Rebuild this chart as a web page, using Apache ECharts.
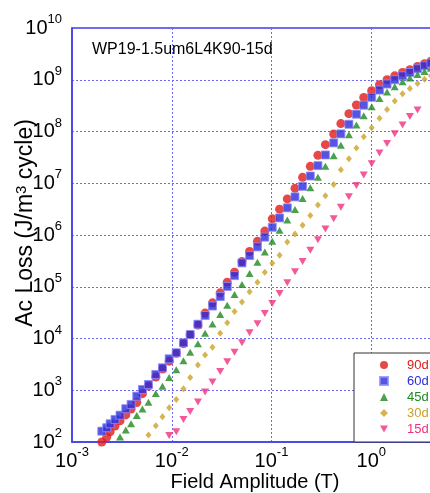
<!DOCTYPE html>
<html>
<head>
<meta charset="utf-8">
<script src="https://cdn.jsdelivr.net/npm/echarts@6/dist/echarts.min.js"></script>
<style>
  html, body { margin: 0; padding: 0; background: #fff; overflow: hidden; width: 430px; height: 493px; }
  /* the plot continues past the right edge of the window, so the canvas is wider than the page */
  #chart { width: 500px; height: 493px; }
</style>
</head>
<body>
<div id="chart"></div>
<script>
// Field amplitude (T) at which each loss was measured
const fieldAmplitude = [
  0.00199, 0.00223, 0.00241, 0.00270, 0.00303, 0.00346, 0.00391, 0.00446, 0.00508, 0.00584,
  0.00692, 0.00807, 0.00942, 0.0111, 0.0131, 0.0153, 0.0183, 0.0216, 0.0256, 0.0306,
  0.0360, 0.0426, 0.0506, 0.0603, 0.0723, 0.0857, 0.1018, 0.1205, 0.144, 0.172,
  0.205, 0.245, 0.292, 0.347, 0.420, 0.496, 0.597, 0.710, 0.841, 1.01,
  1.21, 1.44, 1.72, 2.06, 2.44, 2.91, 3.42, 3.97
];

// AC loss (J/m^3 cycle) per field angle; null where not measured
const loss90 = [
  100, 125, 157, 203, 258, 334, 432, 581, 859, 1200,
  1800, 2576, 3650, 5180, 7940, 11780, 18240, 31000, 48900, 76200,
  1.22e5, 1.906e5, 3.06e5, 4.79e5, 7.55e5, 1.19e6, 2.05e6, 3.16e6, 4.98e6, 7.98e6,
  1.30e7, 2.12e7, 3.46e7, 5.56e7, 8.95e7, 1.42e8, 2.21e8, 3.25e8, 4.55e8, 6.14e8,
  8.0e8, 1.0e9, 1.19e9, 1.38e9, 1.56e9, 1.81e9, 2.04e9, 2.28e9
];
const loss60 = [
  162, 189, 225, 273, 330, 440, 532, 769, 1035, 1294,
  2018, 2716, 4052, 5296, 8260, 11940, 18880, 27800, 42400, 64700,
  1.01e5, 1.64e5, 2.89e5, 4.0e5, 5.89e5, 9.1e5, 1.41e6, 2.14e6, 3.35e6, 5.45e6,
  8.72e6, 1.38e7, 2.19e7, 3.52e7, 6.02e7, 9.0e7, 1.38e8, 2.16e8, 3.22e8, 4.59e8,
  6.32e8, 8.26e8, 1.0e9, 1.19e9, 1.38e9, 1.63e9, 1.86e9, 2.09e9
];
const loss45 = [
  null, null, null, null, 125, 171, 225, 326, 432, 589,
  867, 1200, 1766, 2489, 3707, 5445, 7940, 12600, 19070, 29000,
  43900, 70700, 1.10e5, 1.80e5, 2.97e5, 4.68e5, 7.55e5, 1.23e6, 1.95e6, 3.12e6,
  5.09e6, 8.18e6, 1.31e7, 2.12e7, 3.41e7, 5.40e7, 8.61e7, 1.33e8, 2.02e8, 3.01e8,
  4.36e8, 5.79e8, 7.33e8, 9.15e8, 1.08e9, 1.27e9, 1.45e9, 1.67e9
];
const loss30 = [
  null, null, null, null, null, null, null, null, null, 136,
  205, 308, 459, 664, 1069, 1766, 3077, 4799, 6790, 12650,
  20090, 33200, 51000, 79800, 1.22e5, 1.906e5, 2.84e5, 4.04e5, 7.36e5, 1.05e6,
  1.54e6, 2.37e6, 3.81e6, 5.76e6, 9.5e6, 1.83e7, 2.99e7, 4.80e7, 7.94e7, 1.18e8,
  1.81e8, 2.67e8, 3.88e8, 5.37e8, 6.80e8, 8.48e8, 1.02e9, 1.19e9
];
const loss15 = [
  null, null, null, null, null, null, null, null, null, null,
  null, null, 134, 158, 273, 390, 594, 927, 1445, 2306,
  3548, 5445, 8260, 12880, 19230, 30400, 47400, 73900, 1.19e5, 1.94e5,
  3.06e5, 5.07e5, 8.08e5, 1.31e6, 2.05e6, 3.43e6, 5.51e6, 9.0e6, 1.45e7, 2.39e7,
  3.85e7, 5.89e7, 9.07e7, 1.33e8, 1.95e8, 2.60e8, null, null
];

const seriesNames = ['90d', '60d', '45d', '30d', '15d'];
const seriesColors = ['#e01a1a', '#2b2bd8', '#1e8a1e', '#c9a227', '#f0307e'];
const chartTitle = 'WP19-1.5um6L4K90-15d';

function pairs(values) {
  const out = [];
  values.forEach((v, i) => { if (v !== null) out.push([fieldAmplitude[i], v]); });
  return out;
}

function powerLabel(value) {
  const e = Math.round(Math.log10(value));
  return '{b|10}{e|' + e + '}';
}

const FONT = 'Liberation Sans, Arial, sans-serif';
const tickRich = {
  b: { fontSize: 20, color: '#000', fontFamily: FONT, padding: [5, 0, 5, 0] },
  e: { fontSize: 13, color: '#000', fontFamily: FONT, verticalAlign: 'top' }
};

const axisBlue = '#4040e8';
const gridLine = { show: true, lineStyle: { color: '#6f66f2', type: [2, 2], width: 1 } };

const chart = echarts.init(document.getElementById('chart'), null, { renderer: 'canvas' });

chart.setOption({
  backgroundColor: '#fff',
  animation: false,
  title: {
    text: chartTitle,
    left: 92, top: 42, padding: 0,
    textStyle: { fontSize: 16, fontWeight: 'normal', color: '#000', fontFamily: FONT }
  },
  grid: {
    left: 72, top: 28, width: 399, height: 414,
    outerBoundsMode: 'none',
    containLabel: false,
    show: true, borderColor: axisBlue, borderWidth: 1.5, backgroundColor: 'transparent'
  },
  legend: {
    orient: 'vertical',
    left: 354, top: 353,
    padding: [4, 40, 5, 25],
    itemGap: 0,
    itemWidth: 8, itemHeight: 8,
    backgroundColor: '#fff',
    borderColor: '#333', borderWidth: 1,
    textStyle: { fontSize: 13, lineHeight: 16, padding: [0, 0, 0, 14], fontFamily: FONT },
    data: [
      { name: '90d', icon: 'circle', textStyle: { color: seriesColors[0] } },
      { name: '60d', icon: 'rect', textStyle: { color: seriesColors[1] } },
      { name: '45d', icon: 'triangle', textStyle: { color: seriesColors[2] } },
      { name: '30d', icon: 'diamond', textStyle: { color: seriesColors[3] } },
      { name: '15d', icon: 'path://M0,0 L10,0 L5,9 Z', textStyle: { color: seriesColors[4] } }
    ]
  },
  xAxis: {
    type: 'log', logBase: 10, min: 0.001, max: 10,
    name: 'Field Amplitude (T)', nameLocation: 'middle', nameGap: 30,
    nameMoveOverlap: false,
    nameTextStyle: { fontSize: 20, color: '#000', padding: [0, 33, 0, 0], fontFamily: FONT },
    axisLine: { show: true, lineStyle: { color: axisBlue, width: 1.5 } },
    axisTick: { show: false },
    minorTick: { show: false },
    axisLabel: { formatter: powerLabel, rich: tickRich, margin: 4 },
    splitLine: gridLine
  },
  yAxis: {
    type: 'log', logBase: 10, min: 100, max: 1e10,
    name: '{a|Ac Loss (J/m}{s|3}{a| cycle)}', nameLocation: 'middle', nameGap: 35,
    nameMoveOverlap: false,
    nameTextStyle: {
      padding: [0, 0, 0, 24],
      rich: {
        a: { fontSize: 23, color: '#000', fontFamily: FONT },
        s: { fontSize: 15, color: '#000', fontFamily: FONT, verticalAlign: 'top' }
      }
    },
    axisLine: { show: true, lineStyle: { color: axisBlue, width: 1.5 } },
    axisTick: { show: false },
    minorTick: { show: false },
    axisLabel: { formatter: powerLabel, rich: tickRich, margin: 10 },
    splitLine: gridLine
  },
  series: [
    { name: seriesNames[0], type: 'scatter', data: pairs(loss90), symbol: 'circle', symbolSize: 9,
      itemStyle: { color: seriesColors[0] } },
    { name: seriesNames[1], type: 'scatter', data: pairs(loss60), symbol: 'rect', symbolSize: 8,
      itemStyle: { color: seriesColors[1], borderColor: '#8c8cff', borderWidth: 1 } },
    { name: seriesNames[2], type: 'scatter', data: pairs(loss45), symbol: 'triangle', symbolSize: [8, 7],
      itemStyle: { color: seriesColors[2] } },
    { name: seriesNames[3], type: 'scatter', data: pairs(loss30), symbol: 'diamond', symbolSize: [6, 7],
      itemStyle: { color: seriesColors[3] } },
    { name: seriesNames[4], type: 'scatter', data: pairs(loss15), symbol: 'triangle', symbolRotate: 180, symbolSize: [8, 7],
      itemStyle: { color: seriesColors[4] } }
  ]
});
</script>
</body>
</html>
